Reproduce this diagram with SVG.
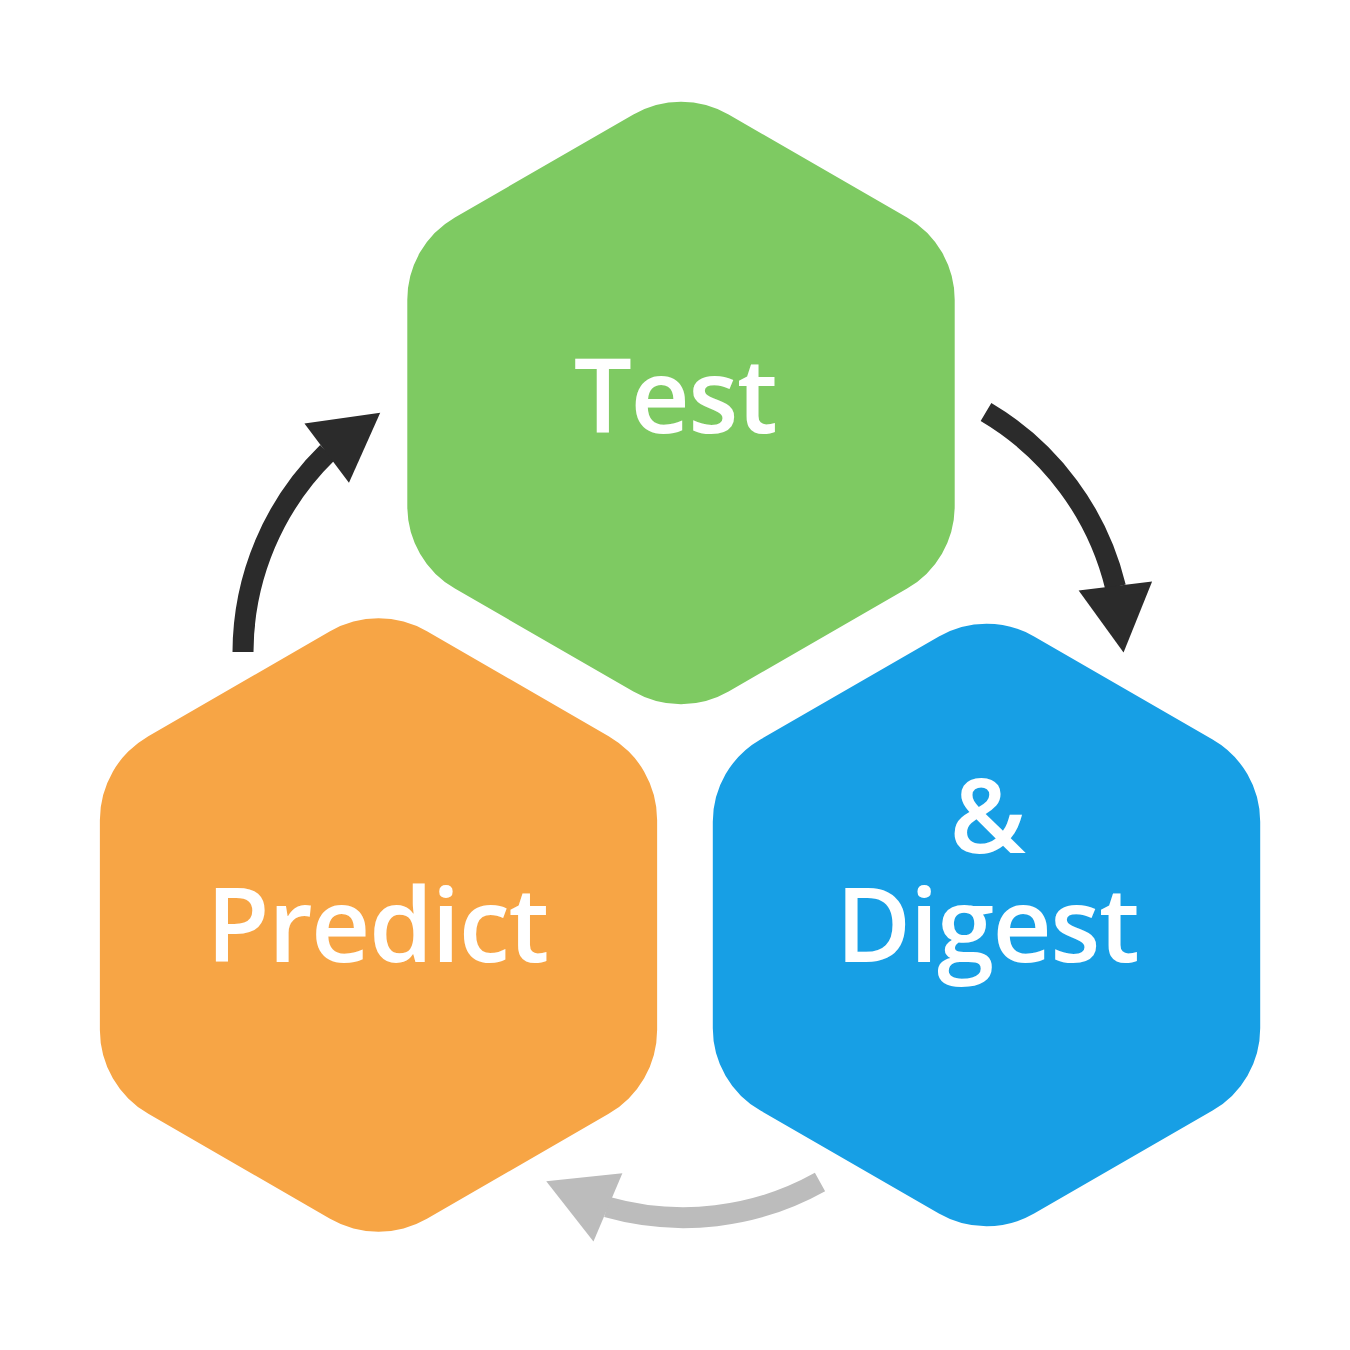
<svg xmlns="http://www.w3.org/2000/svg" xmlns:xlink="http://www.w3.org/1999/xlink" width="1350" height="1350" viewBox="0 0 1350 1350">
  <style>
    .label { font-family: "Open Sans", "Liberation Sans", sans-serif; font-weight: 600; font-size: 103px; letter-spacing: -1.5px; fill: #ffffff; text-anchor: middle; }
    .shaft { fill: none; stroke-width: 21; stroke-linecap: butt; }
    .dark { stroke: #2b2b2b; }
    .light { stroke: #bcbcbc; }
    .head-dark { fill: #2b2b2b; }
    .head-light { fill: #bcbcbc; }
  </style>
  <defs>
    <path id="hex" d="M -47.6,-288.5 A 95 95 0 0 1 47.6,-288.5 L 226.1,-185.5 A 95 95 0 0 1 273.7,-103 L 273.7,103 A 95 95 0 0 1 226.1,185.5 L 47.6,288.5 A 95 95 0 0 1 -47.6,288.5 L -226.1,185.5 A 95 95 0 0 1 -273.7,103 L -273.7,-103 A 95 95 0 0 1 -226.1,-185.5 Z"/>
    <path id="head" d="M -1,-37 L 66,0 L -1,37 Z"/>
  </defs>
  <rect width="1350" height="1350" fill="#ffffff"/>

  <g id="node-test">
    <use xlink:href="#hex" href="#hex" transform="translate(681,403)" fill="#7eca62"/>
    <text class="label" x="675" y="433">Test</text>
  </g>

  <g id="node-predict">
    <use xlink:href="#hex" href="#hex" transform="translate(378.5,925) scale(1.018)" fill="#f7a545"/>
    <text class="label" x="377" y="962">Predict</text>
  </g>

  <g id="node-digest">
    <use xlink:href="#hex" href="#hex" transform="translate(986.5,925)" fill="#179fe5"/>
    <text class="label"><tspan x="987" y="853">&amp;</tspan><tspan x="987" y="962">Digest</tspan></text>
  </g>

  <g id="connectors">
    <path class="shaft dark" d="M 243,652 A 280 280 0 0 1 327.5,452.5"/>
    <use xlink:href="#head" href="#head" class="head-dark" transform="translate(327.5,452.5) rotate(-37)"/>

    <path class="shaft dark" d="M 986,412 A 280 280 0 0 1 1115.5,587"/>
    <use xlink:href="#head" href="#head" class="head-dark" transform="translate(1115.5,587) rotate(83)"/>

    <path class="shaft light" d="M 820,1182 A 280 280 0 0 1 607,1207"/>
    <use xlink:href="#head" href="#head" class="head-light" transform="translate(607,1207) rotate(203)"/>
  </g>
</svg>
